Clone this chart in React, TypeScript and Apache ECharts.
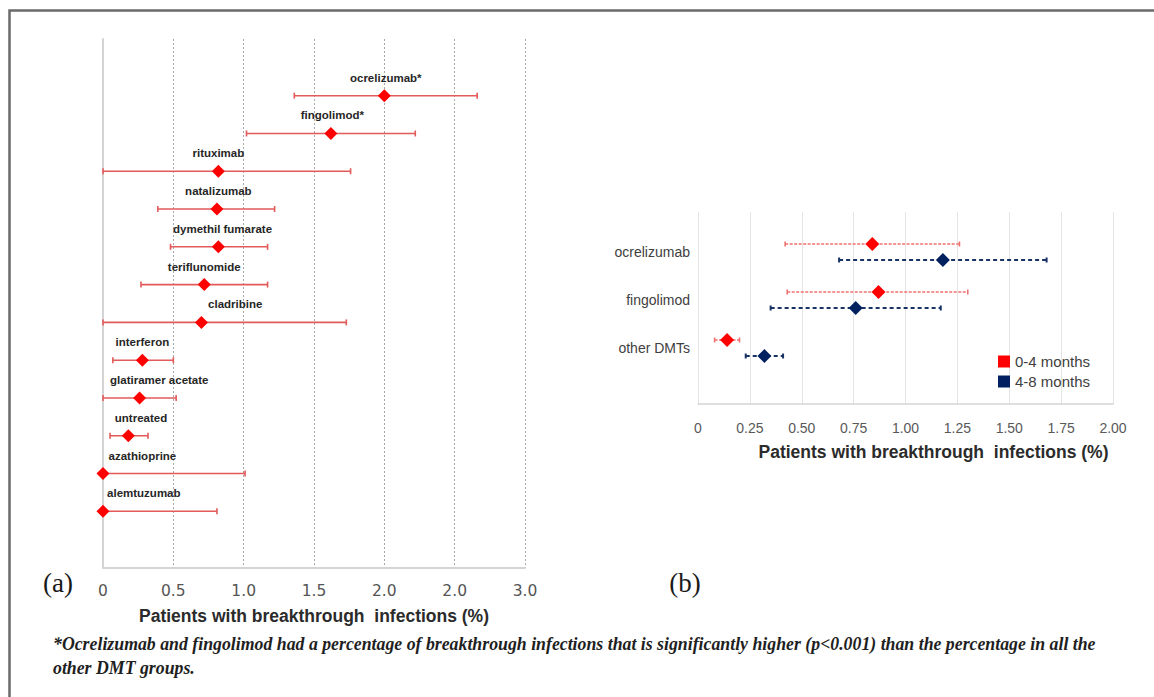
import React, { useEffect, useRef } from "react";
import * as echarts from "echarts";

// ---------- panel (a) ----------
const drugsA = [
  "ocrelizumab*",
  "fingolimod*",
  "rituximab",
  "natalizumab",
  "dymethil fumarate",
  "teriflunomide",
  "cladribine",
  "interferon",
  "glatiramer acetate",
  "untreated",
  "azathioprine",
  "alemtuzumab",
];
const pctA = [2.0, 1.62, 0.82, 0.81, 0.82, 0.72, 0.7, 0.28, 0.26, 0.18, 0, 0];
const lowA = [1.36, 1.02, 0, 0.39, 0.48, 0.27, 0, 0.07, 0, 0.05, 0, 0];
const highA = [2.66, 2.22, 1.76, 1.22, 1.17, 1.17, 1.73, 0.5, 0.52, 0.32, 1.01, 0.81];
const labelAtA = [2.01, 1.63, 0.82, 0.82, 0.85, 0.72, 0.94, 0.28, 0.4, 0.27, 0.28, 0.29];
const ticksA = ["0", "0.5", "1.0", "1.5", "2.0", "2.0", "3.0"];

// ---------- panel (b) ----------
const groupsB = ["ocrelizumab", "fingolimod", "other DMTs"];
const periodsB = ["0-4 months", "4-8 months"];
const pct04 = [0.84, 0.87, 0.14];
const low04 = [0.42, 0.43, 0.08];
const high04 = [1.26, 1.3, 0.2];
const pct48 = [1.18, 0.76, 0.32];
const low48 = [0.68, 0.35, 0.23];
const high48 = [1.68, 1.17, 0.41];
const ticksB = ["0", "0.25", "0.50", "0.75", "1.00", "1.25", "1.50", "1.75", "2.00"];

const axisName = "Patients with breakthrough  infections (%)";
const footLine1 =
  "*Ocrelizumab and fingolimod had a percentage of breakthrough infections that is significantly higher (p<0.001) than the percentage in all the";
const footLine2 = "other DMT groups.";

const RED = "#ff0000";
const NAVY = "#002060";

function errorBars(color: string, width: number, dash: number[] | null, cap: number, labels?: string[]) {
  return (params: any, api: any) => {
    const y = api.value(2);
    const a = api.coord([api.value(0), y]);
    const b = api.coord([api.value(1), y]);
    const lineStyle: any = { stroke: color, lineWidth: width };
    if (dash) lineStyle.lineDash = dash;
    const children: any[] = [
      { type: "line", shape: { x1: a[0], y1: a[1], x2: b[0], y2: b[1] }, style: lineStyle },
      { type: "line", shape: { x1: a[0], y1: a[1] - cap, x2: a[0], y2: a[1] + cap }, style: { stroke: color, lineWidth: width } },
      { type: "line", shape: { x1: b[0], y1: b[1] - cap, x2: b[0], y2: b[1] + cap }, style: { stroke: color, lineWidth: width } },
    ];
    if (labels) {
      const c = api.coord([api.value(3), y]);
      children.push({
        type: "text",
        x: c[0],
        y: c[1] - 18,
        style: {
          text: labels[params.dataIndex],
          fill: "#262626",
          font: 'bold 11.5px "Liberation Sans"',
          align: "center",
          verticalAlign: "middle",
        },
      });
    }
    return { type: "group", children };
  };
}

export default function App() {
  const ref = useRef<HTMLDivElement>(null);

  useEffect(() => {
    if (!ref.current) return;
    const chart = echarts.init(ref.current, undefined, { renderer: "svg" });

    const rowA = (i: number) => 12.5 - i;
    const rowB04 = (i: number) => 3 - i + 1 / 3;
    const rowB48 = (i: number) => 3 - i;

    const option: any = {
      animation: false,
      backgroundColor: "#ffffff",
      legend: {
        data: periodsB,
        orient: "vertical",
        left: 993,
        top: 349,
        icon: "rect",
        itemWidth: 12,
        itemHeight: 12,
        itemGap: 5,
        textStyle: { fontSize: 15, color: "#404040", fontFamily: "Liberation Sans" },
        selectedMode: false,
      },
      grid: [
        { left: 103, right: 1154 - 525, top: 39, bottom: 697 - 568 },
        { left: 698, right: 1154 - 1113, top: 212, bottom: 697 - 404 },
      ],
      xAxis: [
        {
          gridIndex: 0,
          type: "value",
          min: 0,
          max: 3,
          interval: 0.5,
          axisLine: { show: true, lineStyle: { color: "#d4d4d4", width: 2 } },
          axisTick: { show: false },
          splitLine: {
            show: true,
            showMinLine: false,
            lineStyle: { color: "#a8a8a8", width: 1, type: [2, 2] },
          },
          axisLabel: {
            margin: 15,
            fontSize: 15.5,
            color: "#555555",
            fontFamily: "DejaVu Sans",
            formatter: (v: number) => ticksA[Math.round(v / 0.5)],
          },
          name: axisName,
          nameLocation: "middle",
          nameGap: 39,
          nameTextStyle: { fontSize: 17.5, fontWeight: "bold", color: "#2b2b2b", fontFamily: "Liberation Sans" },
        },
        {
          gridIndex: 1,
          type: "value",
          min: 0,
          max: 2,
          interval: 0.25,
          axisLine: { show: true, lineStyle: { color: "#d4d4d4", width: 1.5 } },
          axisTick: { show: false },
          splitLine: { show: true, lineStyle: { color: "#e4e4e4", width: 1 } },
          axisLabel: {
            margin: 17,
            fontSize: 14,
            color: "#595959",
            fontFamily: "Liberation Sans",
            formatter: (v: number) => ticksB[Math.round(v / 0.25)],
          },
          name: axisName,
          nameLocation: "middle",
          nameGap: 39,
          nameTextStyle: {
            fontSize: 17.5,
            fontWeight: "bold",
            color: "#2b2b2b",
            fontFamily: "Liberation Sans",
            padding: [0, 0, 0, 56],
          },
        },
      ],
      yAxis: [
        {
          gridIndex: 0,
          type: "value",
          min: 0,
          max: 14,
          axisLine: { show: true, lineStyle: { color: "#d4d4d4", width: 2 } },
          axisTick: { show: false },
          axisLabel: { show: false },
          splitLine: { show: false },
        },
        {
          gridIndex: 1,
          type: "value",
          min: 0,
          max: 4,
          axisLine: { show: false },
          axisTick: { show: false },
          splitLine: { show: false },
          axisLabel: {
            customValues: groupsB.map((_, i) => 3 - i + 1 / 6),
            margin: 8,
            fontSize: 14,
            color: "#404040",
            fontFamily: "Liberation Sans",
            formatter: (v: number) => groupsB[Math.round(3 + 1 / 6 - v)] ?? "",
          },
        },
      ],
      series: [
        {
          type: "custom",
          name: "ci-a",
          xAxisIndex: 0,
          yAxisIndex: 0,
          z: 2,
          clip: false,
          renderItem: errorBars("#e35a5a", 1.6, null, 3, drugsA),
          encode: { x: [0, 1, 3], y: 2 },
          data: drugsA.map((_, i) => [lowA[i], highA[i], rowA(i), labelAtA[i]]),
        },
        {
          type: "scatter",
          name: "a",
          xAxisIndex: 0,
          yAxisIndex: 0,
          z: 3,
          clip: false,
          symbol: "diamond",
          symbolSize: 13,
          itemStyle: { color: RED, opacity: 1 },
          data: drugsA.map((_, i) => [pctA[i], rowA(i)]),
        },
        {
          type: "custom",
          name: "ci-04",
          xAxisIndex: 1,
          yAxisIndex: 1,
          z: 2,
          clip: false,
          renderItem: errorBars("#ef7070", 1.6, [3, 1.5], 2.5),
          encode: { x: [0, 1], y: 2 },
          data: groupsB.map((_, i) => [low04[i], high04[i], rowB04(i)]),
        },
        {
          type: "custom",
          name: "ci-48",
          xAxisIndex: 1,
          yAxisIndex: 1,
          z: 2,
          clip: false,
          renderItem: errorBars("#1a3366", 2, [4, 3], 2.5),
          encode: { x: [0, 1], y: 2 },
          data: groupsB.map((_, i) => [low48[i], high48[i], rowB48(i)]),
        },
        {
          type: "scatter",
          name: periodsB[0],
          xAxisIndex: 1,
          yAxisIndex: 1,
          z: 3,
          clip: false,
          symbol: "diamond",
          symbolSize: 14,
          itemStyle: { color: RED, opacity: 1 },
          data: groupsB.map((_, i) => [pct04[i], rowB04(i)]),
        },
        {
          type: "scatter",
          name: periodsB[1],
          xAxisIndex: 1,
          yAxisIndex: 1,
          z: 3,
          clip: false,
          symbol: "diamond",
          symbolSize: 14,
          itemStyle: { color: NAVY, opacity: 1 },
          data: groupsB.map((_, i) => [pct48[i], rowB48(i)]),
        },
      ],
      graphic: [
        {
          type: "polyline",
          shape: { points: [[9.5, 720], [9.5, 10.5], [1170, 10.5]] },
          style: { stroke: "#6a6a6a", lineWidth: 2.5, fill: "none" },
        },
        {
          type: "text",
          x: 58,
          y: 583,
          style: { text: "(a)", font: '27px "Liberation Serif"', fill: "#1a1a1a", align: "center", verticalAlign: "middle" },
        },
        {
          type: "text",
          x: 685,
          y: 583,
          style: { text: "(b)", font: '27px "Liberation Serif"', fill: "#1a1a1a", align: "center", verticalAlign: "middle" },
        },
        {
          type: "text",
          x: 53,
          y: 644,
          style: { text: footLine1, font: 'italic bold 17.8px "Liberation Serif"', fill: "#1f1f1f", align: "left", verticalAlign: "middle" },
        },
        {
          type: "text",
          x: 53,
          y: 668,
          style: { text: footLine2, font: 'italic bold 17.8px "Liberation Serif"', fill: "#1f1f1f", align: "left", verticalAlign: "middle" },
        },
      ],
    };

    chart.setOption(option);
    return () => chart.dispose();
  }, []);

  return (
    <div
      ref={ref}
      style={{ position: "absolute", left: 0, top: 0, width: 1154, height: 697, background: "#fff" }}
    />
  );
}
